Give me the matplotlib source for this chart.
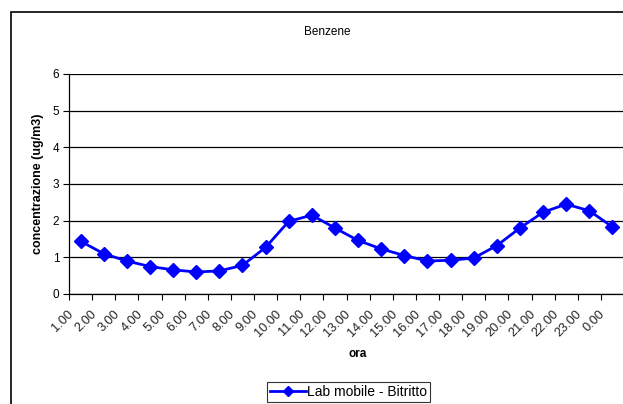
import matplotlib.pyplot as plt
import matplotlib.transforms as mtransforms
from matplotlib.patches import Rectangle

plt.rcParams['font.family'] = ['Liberation Sans', 'DejaVu Sans']

# Ore del giorno e concentrazioni medie di benzene
ore = ['1.00', '2.00', '3.00', '4.00', '5.00', '6.00', '7.00', '8.00',
       '9.00', '10.00', '11.00', '12.00', '13.00', '14.00', '15.00', '16.00',
       '17.00', '18.00', '19.00', '20.00', '21.00', '22.00', '23.00', '0.00']
benzene = [1.44, 1.10, 0.90, 0.75, 0.66, 0.60, 0.63, 0.78,
           1.27, 1.98, 2.15, 1.80, 1.46, 1.23, 1.05, 0.90,
           0.92, 0.98, 1.32, 1.80, 2.23, 2.45, 2.27, 1.83]

W, H = 623, 404
fig = plt.figure(figsize=(W / 100, H / 100), dpi=100)

# cornice esterna del grafico
fig.patches.append(Rectangle((11 / W, -0.1), 1.2, (H - 12) / H + 0.1,
                             transform=fig.transFigure, fill=False,
                             edgecolor='black', linewidth=1.2))

ax = fig.add_axes([69 / W, (H - 294) / H, 555 / W, 220 / H])
x = [i + 0.5 for i in range(len(ore))]
ax.plot(x, benzene, color='#0000ff', linewidth=2, marker='D', markersize=7.5,
        label='Lab mobile - Bitritto', zorder=3)

ax.set_xlim(0, len(ore))
ax.set_ylim(0, 6)
ax.set_yticks(range(0, 7))
ax.set_xticks(range(len(ore)))
ax.set_xticks(x, minor=True)
ax.set_xticklabels([])
ax.set_xticklabels(ore, minor=True, rotation=45, ha='right', va='top',
                   fontsize=9.2, color='#222222')
ax.tick_params(axis='x', which='minor', length=0, pad=10)
ax.tick_params(axis='x', which='major', length=4, width=0.8, direction='out')
ax.tick_params(axis='y', length=4, width=0.8, labelsize=8.5, pad=3)

# etichette ruotate leggermente a sinistra del centro della categoria
shift = mtransforms.ScaledTranslation(-5 / 100, 0, fig.dpi_scale_trans)
for lab in ax.get_xticklabels(minor=True):
    lab.set_transform(lab.get_transform() + shift)

ax.grid(axis='y', color='black', linewidth=0.9)
ax.set_axisbelow(True)
for s in ['top', 'right']:
    ax.spines[s].set_visible(False)
ax.spines['left'].set_linewidth(0.9)
ax.spines['bottom'].set_linewidth(0.9)

ax.set_ylabel('concentrazione (ug/m3)', fontsize=9, fontweight='bold', labelpad=6)
fig.text(358 / W, 1 - 354 / H, 'ora', fontsize=8.5, fontweight='bold',
         ha='center', va='center')
fig.text(327 / W, 1 - 32 / H, 'Benzene', fontsize=8.5, ha='center', va='center')

leg = fig.legend(loc='upper left', bbox_to_anchor=(267 / W, 1 - 382 / H),
                 fontsize=10, frameon=True, fancybox=False, edgecolor='black',
                 borderpad=0.2, handlelength=2.6, handletextpad=0.1,
                 borderaxespad=0)
leg.get_frame().set_linewidth(0.8)
leg.legend_handles[0].set_markersize(5)

fig.savefig('out.png', dpi=100)
